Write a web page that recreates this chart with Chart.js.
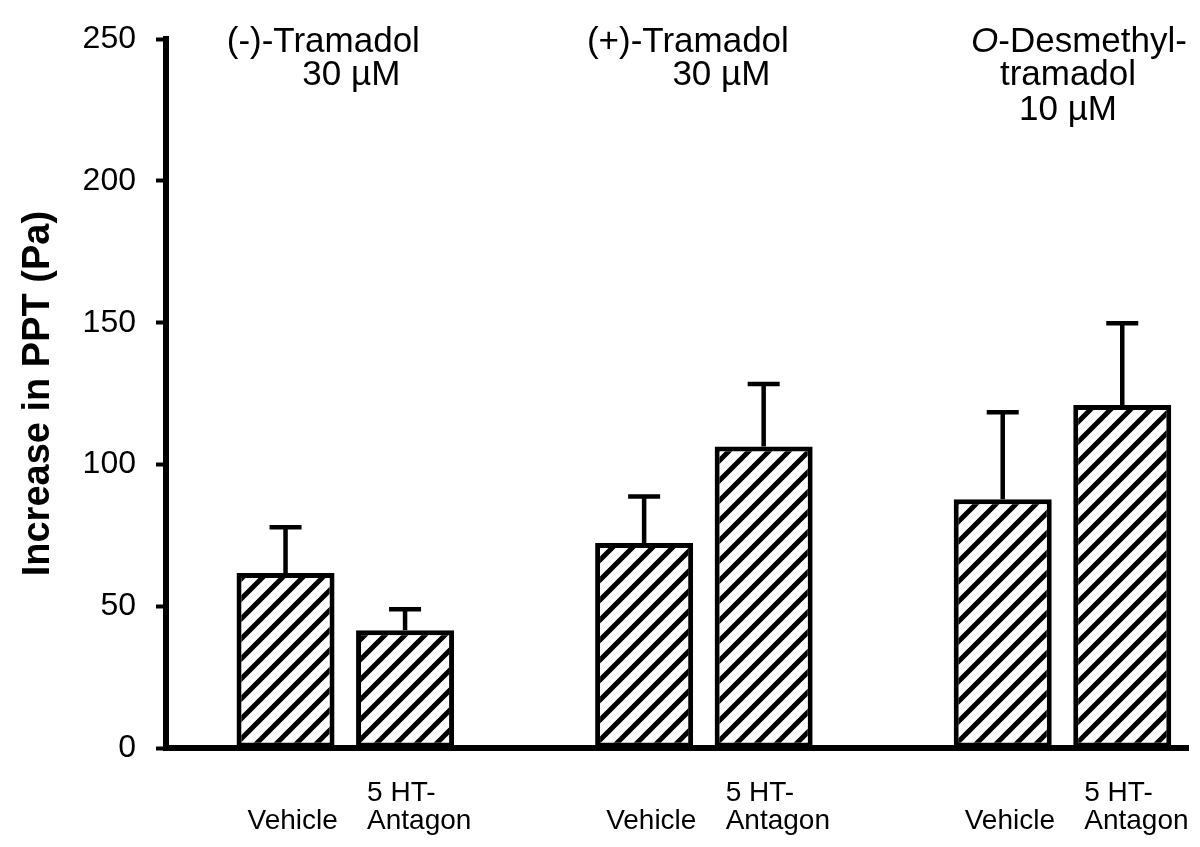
<!DOCTYPE html>
<html>
<head>
<meta charset="utf-8">
<script src="https://cdn.jsdelivr.net/npm/chart.js@4/dist/chart.umd.min.js"></script>
<style>
  body { margin: 0; background: #fff; }
  canvas { display: block; }
</style>
</head>
<body>
<canvas id="myChart" width="1200" height="847"></canvas>
<script>
// slots on the x axis, [] = spacer between the drug groups
const categories = [
  [], ['', 'Vehicle'], ['5 HT-', 'Antagon'],
  [], ['', 'Vehicle'], ['5 HT-', 'Antagon'],
  [], ['', 'Vehicle'], ['5 HT-', 'Antagon'],
];
const meanPPT = [null, 61.7, 41.5, null, 72.3, 106.3, null, 87.7, 121.0];
const semPPT = [null, 16.2, 7.4, null, 16.4, 22.1, null, 30.7, 28.8];
const yTicks = [0, 50, 100, 150, 200, 250];
// segments marked with it:true are italic
const groupTitles = [
  [[{ t: '(-)-Tramadol' }], [{ t: '30 µM' }]],
  [[{ t: '(+)-Tramadol' }], [{ t: '30 µM' }]],
  [[{ t: 'O', it: true }, { t: '-Desmethyl-' }], [{ t: 'tramadol' }], [{ t: '10 µM' }]],
];

const FONT = "'Liberation Sans', Arial, sans-serif";

const ctx = document.getElementById('myChart').getContext('2d');

function makeHatch() {
  const c = document.createElement('canvas');
  c.width = 20;
  c.height = 20;
  const g = c.getContext('2d');
  g.fillStyle = '#fff';
  g.fillRect(0, 0, 20, 20);
  g.strokeStyle = '#000';
  g.lineWidth = 5;
  g.beginPath();
  g.moveTo(-5, 25); g.lineTo(25, -5);
  g.moveTo(-5, 5); g.lineTo(5, -5);
  g.moveTo(15, 25); g.lineTo(25, 15);
  g.stroke();
  return ctx.createPattern(c, 'repeat');
}

const points = categories
  .map((c, i) => ({ x: i, y: meanPPT[i] }))
  .filter(p => p.y !== null);

const errorBars = {
  id: 'errorBars',
  afterDatasetsDraw(chart) {
    const { ctx, scales: { y } } = chart;
    const meta = chart.getDatasetMeta(0);
    ctx.save();
    ctx.strokeStyle = '#000';
    ctx.lineWidth = 4.5;
    meta.data.forEach((bar, j) => {
      const p = points[j];
      const yCap = y.getPixelForValue(p.y + semPPT[p.x]);
      ctx.beginPath();
      ctx.moveTo(bar.x, bar.y);
      ctx.lineTo(bar.x, yCap);
      ctx.moveTo(bar.x - 16, yCap);
      ctx.lineTo(bar.x + 16, yCap);
      ctx.stroke();
    });
    ctx.restore();
  }
};

// line offsets (px) from each group's centre, baselines from chart top
const titleLayout = [
  { dx: [-22, 6] },
  { dx: [-16, 17.5] },
  { dx: [16.5, 5.5, 5.5] },
];
const titleBaselines = [13, 46, 81];

const groupLabels = {
  id: 'groupLabels',
  afterDraw(chart) {
    const { ctx, chartArea, scales: { x } } = chart;
    ctx.save();
    ctx.fillStyle = '#000';
    ctx.textBaseline = 'alphabetic';
    ctx.textAlign = 'left';
    groupTitles.forEach((lines, g) => {
      const cx = x.getPixelForValue(3 * g + 1.5);
      lines.forEach((segs, k) => {
        const fonts = segs.map(s => (s.it ? 'italic ' : '') + '35px ' + FONT);
        let total = 0;
        segs.forEach((s, n) => { ctx.font = fonts[n]; total += ctx.measureText(s.t).width; });
        let sx = cx + titleLayout[g].dx[k] - total / 2;
        const sy = chartArea.top + titleBaselines[k];
        segs.forEach((s, n) => {
          ctx.font = fonts[n];
          ctx.fillText(s.t, sx, sy);
          sx += ctx.measureText(s.t).width;
        });
      });
    });
    ctx.restore();
  }
};

new Chart(ctx, {
  type: 'bar',
  data: {
    datasets: [{
      data: points,
      backgroundColor: makeHatch(),
      borderColor: '#000',
      borderWidth: 5,
      borderSkipped: false,
      categoryPercentage: 1,
      barPercentage: 0.82,
    }],
  },
  options: {
    responsive: false,
    animation: false,
    devicePixelRatio: 1,
    layout: { padding: { top: 38, right: 12, bottom: 0, left: 0 } },
    plugins: { legend: { display: false }, tooltip: { enabled: false } },
    scales: {
      x: {
        type: 'linear',
        offset: false,
        min: 0,
        max: 8.55,
        grid: { display: false },
        border: { display: true, color: '#000', width: 6 },
        ticks: {
          stepSize: 1,
          includeBounds: false,
          autoSkip: false,
          maxRotation: 0,
          minRotation: 0,
          align: 'start',
          labelOffset: -38,
          padding: 23,
          color: '#000',
          font: { family: FONT, size: 28, lineHeight: 1.0 },
          callback: v => categories[v] || '',
        },
        afterFit: s => {
          s.height = 99;
          s.paddingLeft = 0;
          s.paddingRight = 0;
        },
      },
      y: {
        min: 0,
        max: 250,
        grid: { drawOnChartArea: false, drawTicks: true, tickLength: 10, tickWidth: 4, tickColor: '#000' },
        border: { display: true, color: '#000', width: 6 },
        afterBuildTicks: s => { s.ticks = yTicks.map(v => ({ value: v })); },
        ticks: {
          padding: 20,
          color: '#000',
          font: { family: FONT, size: 32 },
        },
        title: {
          display: true,
          text: 'Increase in PPT (Pa)',
          color: '#000',
          font: { family: FONT, size: 38, weight: 'bold' },
          padding: { top: 16, bottom: 0 },
        },
        afterFit: s => { s.width = 166; },
      },
    },
  },
  plugins: [errorBars, groupLabels],
});
</script>
</body>
</html>
